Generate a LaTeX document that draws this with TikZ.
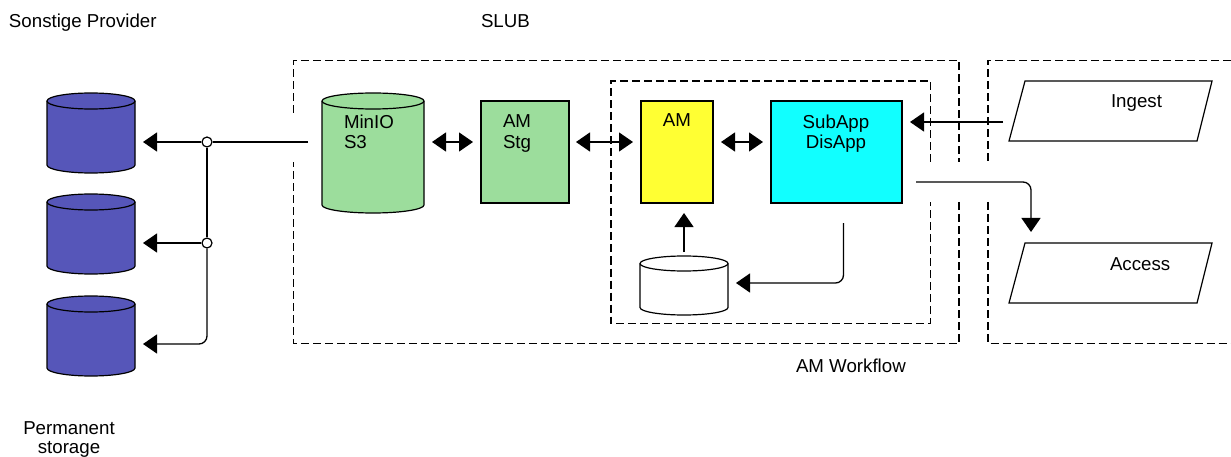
\documentclass[tikz,border=0pt]{standalone}
\usepackage{fontspec}
\setmainfont{Liberation Sans}
\usetikzlibrary{arrows.meta,calc}

\definecolor{drumblue}{HTML}{5656B9}
\definecolor{stggreen}{HTML}{9CDD9C}
\definecolor{amyellow}{HTML}{FFFF33}
\definecolor{appcyan}{HTML}{11FFFF}

\tikzset{
  outline/.style={draw=black, line width=1.2pt},
  dashedframe/.style={draw=black, line width=1.3pt, dash pattern=on 8pt off 4pt},
  link/.style={draw=black, line width=1.3pt},
  tipend/.style={-{Triangle[length=14pt,width=19pt]}},
  tipboth/.style={{Triangle[length=14pt,width=19pt]}-{Triangle[length=14pt,width=19pt]}},
  junction/.style={circle, draw=black, fill=white, line width=1.2pt, minimum size=10pt, inner sep=0pt},
  procbox/.style={rectangle, outline, inner sep=0pt, outer sep=0pt},
  slot/.style={rectangle, inner sep=0pt, outer sep=0pt},
  lbl/.style={inner sep=0pt, outer sep=0pt, font=\fontsize{18.7}{20}\selectfont},
}

% storage drum: name, centre x, centre y, width, height, ellipse half-height, fill
\newcommand{\drum}[7]{%
  \node[slot, minimum width=#4pt, minimum height=#5pt] (#1) at (#2,#3) {};
  \path[outline, fill=#7] ([yshift=-#6pt]#1.north west) -- ([yshift=#6pt]#1.south west)
     arc[start angle=180, end angle=360, x radius=#4*0.5pt, y radius=#6pt]
     -- ([yshift=-#6pt]#1.north east)
     arc[start angle=0, end angle=180, x radius=#4*0.5pt, y radius=#6pt] -- cycle;
  \draw[outline] ([yshift=-#6pt]#1.north west)
     arc[start angle=180, end angle=360, x radius=#4*0.5pt, y radius=#6pt];
}

\begin{document}
\begin{tikzpicture}[x=1pt, y=-1pt]
\useasboundingbox (0,0) rectangle (1231,457);

% headings
\node[lbl, anchor=base west] (provider) at (9,28) {Sonstige Provider};
\node[lbl, anchor=base west] (slub) at (481,28) {SLUB};
\node[lbl, anchor=base west] (wf) at (796,372) {AM Workflow};
\node[lbl, anchor=base] (perm1) at (69,434) {Permanent};
\node[lbl, anchor=base] (perm2) at (69,453) {storage};

% dashed frames (left open where connectors pass)
\draw[dashedframe] (293.5,113) -- (293.5,60.5) -- (959,60.5) -- (959,162);
\draw[dashedframe] (959,202) -- (959,343.5) -- (293.5,343.5) -- (293.5,162);
\draw[dashedframe] (930.5,162) -- (930.5,81) -- (611,81) -- (611,323.5) -- (930.5,323.5) -- (930.5,202);
\draw[dashedframe] (1231,60.5) -- (988,60.5) -- (988,162);
\draw[dashedframe] (988,202) -- (988,343.5) -- (1231,343.5);

% permanent storage drums
\drum{p1}{91}{133}{88}{80}{8}{drumblue}
\drum{p2}{91}{234}{88}{80}{8}{drumblue}
\drum{p3}{91}{336}{88}{80}{8}{drumblue}

% object store
\drum{minio}{373}{153}{102}{120}{8}{stggreen}
\node[lbl, anchor=base west] (minio1) at (344,129) {MinIO};
\node[lbl, anchor=base west] (minio2) at (344,149) {S3};

% staging
\node[procbox, fill=stggreen, minimum width=88pt, minimum height=102pt] (stg) at (525,152) {};
\node[lbl, anchor=base west] (stg1) at (503,128) {AM};
\node[lbl, anchor=base west] (stg2) at (503,149) {Stg};

% workflow
\node[procbox, fill=amyellow, minimum width=72pt, minimum height=102pt] (am) at (677,152) {};
\node[lbl, anchor=base] (am1) at (677,127) {AM};
\node[procbox, fill=appcyan, minimum width=131pt, minimum height=102pt] (app) at (836.5,152) {};
\node[lbl, anchor=base] (app1) at (836,129) {SubApp};
\node[lbl, anchor=base] (app2) at (836,149) {DisApp};
\drum{cache}{684}{285.5}{88}{59}{7.5}{white}

% ingest / access
\node[slot, minimum width=203pt, minimum height=60pt] (ingest) at (1110.5,111) {};
\draw[outline] ($(ingest.north west)+(16,0)$) -- (ingest.north east)
  -- ($(ingest.south east)+(-15,0)$) -- (ingest.south west) -- cycle;
\node[lbl, anchor=base west] (ingest1) at (1111,108) {Ingest};
\node[slot, minimum width=203pt, minimum height=60pt] (access) at (1110.5,273) {};
\draw[outline] ($(access.north west)+(16,0)$) -- (access.north east)
  -- ($(access.south east)+(-15,0)$) -- (access.south west) -- cycle;
\node[lbl, anchor=base west] (access1) at (1110,270) {Access};

% distribution to permanent storage
\coordinate (feed) at (308,142);
\node[junction] (j1) at (207,142) {};
\node[junction] (j2) at (207,243) {};
\draw[link] (feed) -- (j1);
\draw[link,tipend] (j1) -- ($(p1.east |- j1)+(8,0)$);
\draw[link] (j1) -- (j2);
\draw[link,tipend] (j2) -- ($(p2.east |- j2)+(8,0)$);
\draw[link,tipend,rounded corners=8pt] (j2) |- ($(p3.east)+(8,8)$);

% chain of exchanges
\draw[link,tipboth] ($(minio.east)+(8,-11)$) -- ($(stg.west)+(-8,-10)$);
\draw[link,tipboth] ($(stg.east)+(7,-10)$) -- ($(am.west)+(-8,-10)$);
\draw[link,tipboth] ($(am.east)+(8,-10)$) -- ($(app.west)+(-8,-10)$);

% inbound and outbound
\draw[link,tipend] ($(ingest.west)+(-6,11)$) -- ($(app.east)+(8,-30)$);
\draw[link,tipend,rounded corners=8pt] ($(app.east)+(14,30)$) -| ($(access.north)+(-79.5,-11)$);
\draw[link,tipend,rounded corners=8pt] ($(app.south)+(7,20)$) |- ($(cache.east)+(8,-2.5)$);
\draw[link,tipend] ($(cache.north)+(0,-4)$) -- ($(am.south -| cache.north)+(0,10)$);
\end{tikzpicture}
\end{document}
